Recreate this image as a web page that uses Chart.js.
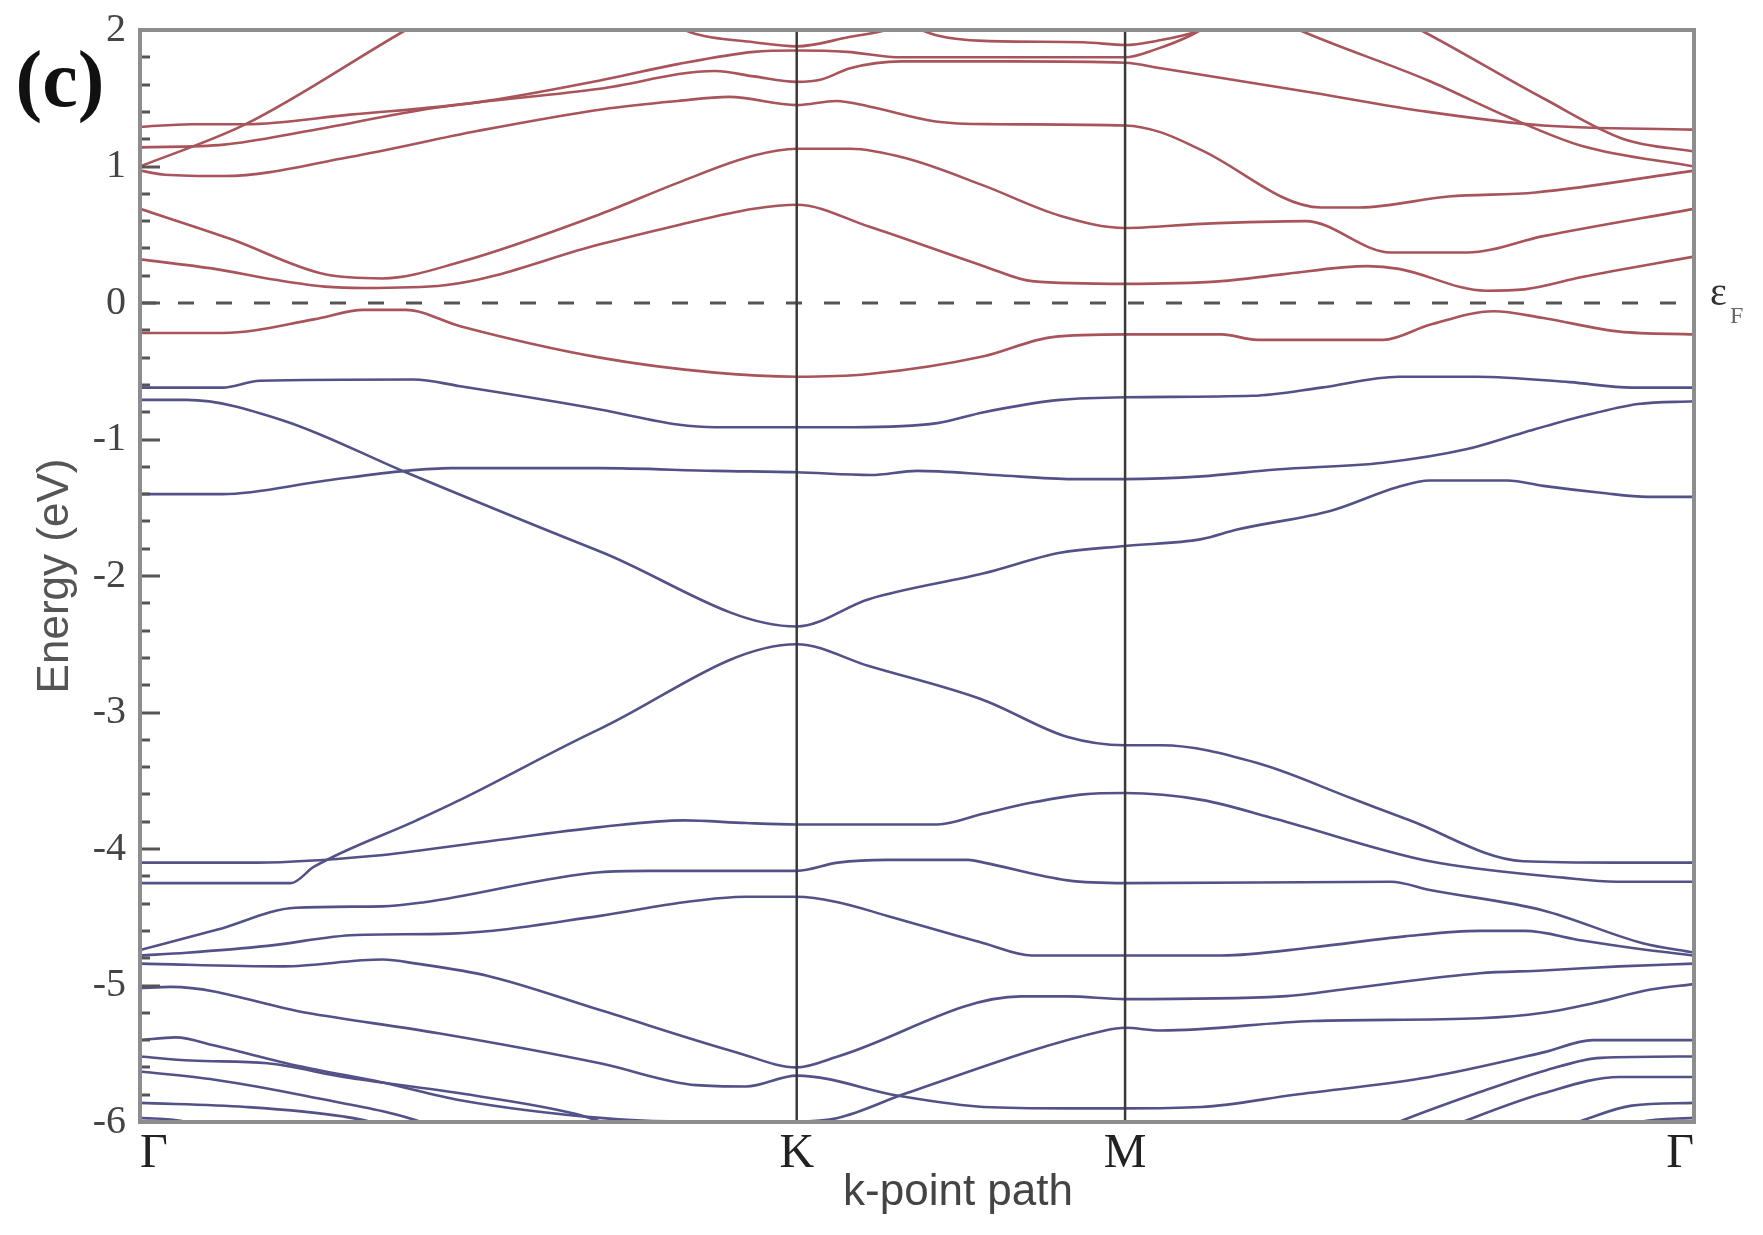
<!DOCTYPE html>
<html>
<head>
<meta charset="utf-8">
<script src="https://cdn.jsdelivr.net/npm/chart.js@4.4.0/dist/chart.umd.min.js"></script>
<style>
  body { margin: 0; background: #fff; }
  canvas { display: block; }
</style>
</head>
<body>
<canvas id="bands" width="1763" height="1235"></canvas>
<script>
// k-path: high symmetry points (fraction of path length) and their labels
const kPos = [0, 0.4226, 0.6339, 1];
const kLabels = ['Γ', 'K', 'M', 'Γ'];
const yMin = -6, yMax = 2;
const minorStep = 0.2;
const fermi = [[0, 0], [1, 0]];

// conduction bands (red), [k, E(eV)]
const c1 = [[0,-0.22],[0.053,-0.22],[0.112,-0.12],[0.144,-0.05],[0.171,-0.05],[0.206,-0.17],[0.296,-0.40],[0.37,-0.51],[0.4226,-0.54],[0.469,-0.52],[0.543,-0.39],[0.587,-0.25],[0.6339,-0.23],[0.696,-0.23],[0.719,-0.27],[0.8,-0.27],[0.83,-0.16],[0.871,-0.06],[0.903,-0.11],[0.952,-0.21],[1,-0.23]];
const c2 = [[0,0.32],[0.048,0.25],[0.087,0.17],[0.119,0.12],[0.144,0.11],[0.196,0.13],[0.296,0.43],[0.346,0.57],[0.395,0.69],[0.4226,0.72],[0.469,0.56],[0.543,0.27],[0.574,0.16],[0.6339,0.14],[0.696,0.16],[0.735,0.21],[0.79,0.27],[0.81,0.25],[0.866,0.09],[0.891,0.10],[0.928,0.19],[1,0.34]];
const c3 = [[0,0.69],[0.058,0.47],[0.119,0.21],[0.156,0.18],[0.206,0.30],[0.296,0.65],[0.346,0.88],[0.395,1.08],[0.4226,1.13],[0.457,1.13],[0.493,1.06],[0.543,0.86],[0.592,0.64],[0.6339,0.55],[0.683,0.58],[0.75,0.60],[0.805,0.37],[0.854,0.37],[0.903,0.49],[1,0.69]];
const c4 = [[0,0.97],[0.016,0.94],[0.054,0.93],[0.135,1.07],[0.217,1.26],[0.298,1.42],[0.346,1.48],[0.379,1.51],[0.4226,1.45],[0.448,1.48],[0.469,1.44],[0.512,1.33],[0.549,1.31],[0.6339,1.30],[0.657,1.25],[0.683,1.12],[0.76,0.70],[0.785,0.70],[0.842,0.78],[0.898,0.81],[1,0.97]];
const c5 = [[0,1.29],[0.033,1.31],[0.068,1.31],[0.135,1.38],[0.217,1.47],[0.296,1.63],[0.346,1.75],[0.395,1.84],[0.4226,1.85],[0.455,1.84],[0.49,1.80],[0.56,1.80],[0.6339,1.80],[0.654,1.86],[0.676,1.96],[0.69,2.05]];
const c6 = [[0,1.14],[0.054,1.16],[0.108,1.26],[0.19,1.43],[0.296,1.57],[0.37,1.70],[0.395,1.66],[0.4226,1.62],[0.439,1.64],[0.457,1.72],[0.49,1.77],[0.56,1.77],[0.6339,1.76],[0.657,1.72],[0.755,1.54],[0.829,1.40],[0.903,1.30],[1,1.27]];
const c7 = [[0,1.0],[0.068,1.31],[0.171,2.0],[0.19,2.12]];
const c8 = [[0.33,2.12],[0.355,1.98],[0.395,1.91],[0.4226,1.88],[0.457,1.95],[0.48,2.0],[0.5,2.1]];
const c9 = [[0.49,2.06],[0.513,1.96],[0.543,1.92],[0.607,1.91],[0.6339,1.89],[0.654,1.92],[0.683,2.0],[0.7,2.1]];
const c10 = [[0.735,2.06],[0.746,2.0],[0.829,1.63],[0.879,1.37],[0.928,1.15],[1,1.0]];
const c11 = [[0.815,2.05],[0.824,2.0],[0.903,1.5],[0.955,1.2],[1,1.11]];

// valence bands (blue)
const v1 = [[0,-0.62],[0.053,-0.62],[0.077,-0.57],[0.176,-0.56],[0.206,-0.61],[0.296,-0.78],[0.346,-0.89],[0.37,-0.91],[0.4226,-0.91],[0.459,-0.91],[0.513,-0.88],[0.543,-0.80],[0.592,-0.71],[0.6339,-0.69],[0.716,-0.68],[0.76,-0.62],[0.81,-0.54],[0.86,-0.54],[0.92,-0.58],[0.96,-0.62],[1,-0.62]];
const v2 = [[0,-0.71],[0.03,-0.71],[0.092,-0.86],[0.171,-1.24],[0.296,-1.82],[0.4226,-2.37],[0.469,-2.17],[0.543,-1.98],[0.592,-1.83],[0.6339,-1.78],[0.683,-1.73],[0.706,-1.66],[0.767,-1.52],[0.809,-1.35],[0.83,-1.30],[0.88,-1.30],[0.903,-1.34],[0.94,-1.39],[0.97,-1.42],[1,-1.42]];
const v3 = [[0,-1.40],[0.053,-1.40],[0.12,-1.30],[0.171,-1.23],[0.2,-1.21],[0.296,-1.21],[0.37,-1.23],[0.4226,-1.24],[0.47,-1.26],[0.5,-1.23],[0.55,-1.26],[0.6,-1.29],[0.6339,-1.29],[0.683,-1.27],[0.731,-1.22],[0.8,-1.17],[0.854,-1.07],[0.89,-0.95],[0.928,-0.83],[0.964,-0.74],[1,-0.72]];
const v4 = [[0,-4.25],[0.097,-4.25],[0.112,-4.13],[0.178,-3.79],[0.206,-3.64],[0.296,-3.12],[0.4226,-2.50],[0.469,-2.66],[0.543,-2.91],[0.597,-3.18],[0.6339,-3.24],[0.657,-3.24],[0.719,-3.37],[0.78,-3.63],[0.817,-3.79],[0.89,-4.09],[0.95,-4.10],[1,-4.10]];
const v5 = [[0,-4.10],[0.075,-4.10],[0.151,-4.05],[0.22,-3.95],[0.296,-3.84],[0.35,-3.79],[0.39,-3.81],[0.4226,-3.82],[0.513,-3.82],[0.543,-3.74],[0.574,-3.66],[0.607,-3.60],[0.6339,-3.59],[0.683,-3.64],[0.731,-3.78],[0.83,-4.09],[0.916,-4.21],[0.95,-4.24],[1,-4.24]];
const v6 = [[0,-4.74],[0.05,-4.59],[0.1,-4.43],[0.156,-4.42],[0.183,-4.39],[0.296,-4.17],[0.328,-4.16],[0.4226,-4.16],[0.449,-4.10],[0.481,-4.08],[0.533,-4.08],[0.543,-4.10],[0.597,-4.23],[0.6339,-4.25],[0.805,-4.24],[0.83,-4.30],[0.903,-4.45],[0.967,-4.69],[1,-4.76]];
const v7 = [[0,-4.78],[0.03,-4.76],[0.082,-4.71],[0.139,-4.63],[0.2,-4.62],[0.296,-4.49],[0.35,-4.39],[0.39,-4.35],[0.4226,-4.35],[0.449,-4.39],[0.481,-4.49],[0.543,-4.69],[0.574,-4.78],[0.6339,-4.78],[0.696,-4.78],[0.755,-4.72],[0.814,-4.64],[0.862,-4.60],[0.891,-4.60],[0.928,-4.67],[0.97,-4.74],[1,-4.78]];
const v8 = [[0,-4.84],[0.092,-4.86],[0.156,-4.81],[0.178,-4.84],[0.224,-4.93],[0.296,-5.18],[0.384,-5.49],[0.4226,-5.60],[0.449,-5.52],[0.567,-5.08],[0.597,-5.08],[0.6339,-5.10],[0.735,-5.08],[0.78,-5.02],[0.862,-4.91],[0.903,-4.89],[0.952,-4.86],[1,-4.84]];
const v9 = [[0,-5.02],[0.02,-5.01],[0.107,-5.2],[0.192,-5.35],[0.296,-5.57],[0.358,-5.73],[0.39,-5.74],[0.4226,-5.66],[0.489,-5.81],[0.543,-5.89],[0.597,-5.90],[0.6339,-5.90],[0.683,-5.89],[0.743,-5.80],[0.83,-5.67],[0.903,-5.49],[0.935,-5.40],[1,-5.40]];
const v10 = [[0,-5.40],[0.023,-5.38],[0.048,-5.44],[0.102,-5.59],[0.156,-5.71],[0.206,-5.84],[0.296,-5.97],[0.34,-5.995],[0.4226,-5.995],[0.449,-5.97],[0.493,-5.79],[0.621,-5.33],[0.6339,-5.31],[0.657,-5.33],[0.755,-5.26],[0.862,-5.24],[0.903,-5.20],[0.935,-5.13],[0.972,-5.03],[1,-4.99]];
const v11 = [[0,-5.52],[0.033,-5.55],[0.082,-5.57],[0.131,-5.67],[0.206,-5.79],[0.28,-5.94],[0.31,-6.05]];
const v12 = [[0,-5.63],[0.048,-5.69],[0.107,-5.81],[0.186,-6.02],[0.2,-6.1]];
const v13 = [[0,-5.86],[0.068,-5.89],[0.131,-5.96],[0.155,-6.02],[0.17,-6.1]];
const v14 = [[0,-5.97],[0.03,-6.0],[0.045,-6.1]];
const v15 = [[0.80,-6.05],[0.81,-6.0],[0.86,-5.79],[0.905,-5.62],[0.94,-5.53],[1,-5.52]];
const v16 = [[0.84,-6.05],[0.851,-6.0],[0.903,-5.79],[0.952,-5.67],[1,-5.67]];
const v17 = [[0.91,-6.05],[0.925,-6.0],[0.96,-5.88],[1,-5.86]];
const v18 = [[0.955,-6.05],[0.965,-6.0],[1,-5.97]];

const conduction = [c1, c2, c3, c4, c5, c6, c7, c8, c9, c10, c11];
const valence = [v1, v2, v3, v4, v5, v6, v7, v8, v9, v10, v11, v12, v13, v14, v15, v16, v17, v18];

const red = 'rgb(168,84,90)';
const blue = 'rgb(82,82,136)';

function band(pts, color) {
    return {
        data: pts.map(p => ({ x: p[0], y: p[1] })),
        borderColor: color,
        borderWidth: 2.6,
        pointRadius: 0,
        cubicInterpolationMode: 'monotone',
        fill: false
    };
}

const datasets = [];
// vertical lines at K and M
[kPos[1], kPos[2]].forEach(k => {
    datasets.push({
        data: [{ x: k, y: yMin }, { x: k, y: yMax }],
        borderColor: '#3a3a3a', borderWidth: 2.5, pointRadius: 0, tension: 0
    });
});
// fermi level
datasets.push({
    data: fermi.map(p => ({ x: p[0], y: p[1] })),
    borderColor: '#555', borderWidth: 3, borderDash: [16, 22], pointRadius: 0, tension: 0
});
conduction.forEach(b => datasets.push(band(b, red)));
valence.forEach(b => datasets.push(band(b, blue)));

// inward ticks on the energy axis + plot frame
const frame = {
    id: 'frame',
    afterDatasetsDraw(chart) {
        const { ctx, chartArea: a, scales: { y } } = chart;
        ctx.save();
        ctx.strokeStyle = '#555';
        ctx.lineWidth = 3;
        const n = Math.round((yMax - yMin) / minorStep);
        for (let i = 0; i <= n; i++) {
            const py = Math.round(y.getPixelForValue(yMin + i * minorStep));
            const len = i % 5 === 0 ? 20 : 10;
            ctx.beginPath();
            ctx.moveTo(a.left, py);
            ctx.lineTo(a.left + len, py);
            ctx.stroke();
        }
        ctx.strokeStyle = '#8d8d8d';
        ctx.lineWidth = 4;
        ctx.strokeRect(a.left, a.top, a.right - a.left, a.bottom - a.top);
        ctx.restore();
    }
};

// panel tag, fermi label, x title
const labels = {
    id: 'labels',
    afterDraw(chart) {
        const { ctx, chartArea: a, scales: { y } } = chart;
        ctx.save();
        ctx.fillStyle = '#111';
        ctx.font = 'bold 80px "Liberation Serif"';
        ctx.textAlign = 'center';
        ctx.textBaseline = 'alphabetic';
        ctx.fillText('(c)', 60, 106);

        const y0 = y.getPixelForValue(0);
        ctx.fillStyle = '#333';
        ctx.textAlign = 'left';
        ctx.font = '40px "Liberation Serif"';
        ctx.fillText('ε', a.right + 16, y0 + 2);
        ctx.font = '24px "Liberation Serif"';
        ctx.fillStyle = '#666';
        ctx.fillText('F', a.right + 36, y0 + 20);

        ctx.fillStyle = '#444';
        ctx.textAlign = 'center';
        ctx.font = '44px "Liberation Sans"';
        ctx.fillText('k-point path', 958, 1205);
        ctx.restore();
    }
};

new Chart(document.getElementById('bands'), {
    type: 'line',
    data: { datasets: datasets },
    options: {
        responsive: false,
        devicePixelRatio: 1,
        animation: false,
        events: [],
        layout: { padding: { top: 26, right: 69, left: 0, bottom: 0 } },
        plugins: { legend: { display: false }, tooltip: { enabled: false } },
        scales: {
            x: {
                type: 'linear',
                min: 0,
                max: 1,
                afterBuildTicks: scale => { scale.ticks = kPos.map(v => ({ value: v })); },
                afterFit: scale => { scale.height = 113; },
                grid: { display: false },
                border: { display: false },
                ticks: {
                    autoSkip: false,
                    maxRotation: 0,
                    align: 'inner',
                    padding: -4,
                    color: '#222',
                    font: { family: 'Liberation Serif', size: 48 },
                    callback: (v, i) => kLabels[i]
                }
            },
            y: {
                min: yMin,
                max: yMax,
                afterFit: scale => { scale.width = 140; },
                grid: { display: false },
                border: { display: false },
                ticks: {
                    stepSize: 1,
                    padding: 6,
                    color: '#444',
                    font: { family: 'Liberation Serif', size: 40 },
                    callback: v => String(v)
                },
                title: {
                    display: true,
                    text: 'Energy (eV)',
                    color: '#555',
                    font: { family: 'Liberation Sans', size: 44 },
                    padding: { top: 29, bottom: 0 }
                }
            }
        }
    },
    plugins: [frame, labels]
});
</script>
</body>
</html>
